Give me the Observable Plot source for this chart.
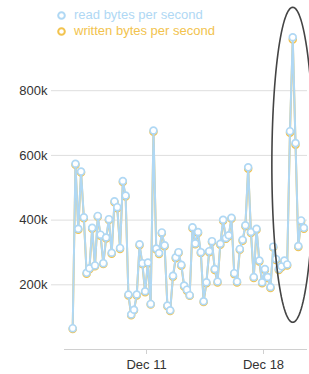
<!DOCTYPE html>
<html>
<head>
<meta charset="utf-8">
<script src="https://cdn.jsdelivr.net/npm/d3@7"></script>
<script src="https://cdn.jsdelivr.net/npm/@observablehq/plot@0.6"></script>
<style>
  html, body { margin: 0; padding: 0; background: #fff; }
  #wrap { position: relative; width: 309px; height: 374px; font-family: "Liberation Sans", Arial, sans-serif; }
  #legend { position: absolute; left: 56px; top: 7px; font-size: 13px; line-height: 16px; z-index: 2; }
  #legend div { display: flex; align-items: center; white-space: nowrap; }
  #legend svg { margin-right: 7px; }
</style>
</head>
<body>
<div id="wrap">
  <div id="legend"></div>
  <div id="chart"></div>
</div>
<script>
// Series (thousands of bytes per second), sampled every 4 hours
const seriesNames = ["read bytes per second", "written bytes per second"];
const seriesColors = ["#b0d8f4", "#f2c34e"];
const readValues = [66,574,373,550,409,237,251,376,260,413,355,267,346,403,299,458,440,314,521,476,170,108,123,170,325,267,180,269,141,677,312,298,362,322,136,121,228,285,301,262,198,185,168,378,328,363,301,149,208,304,335,249,210,327,401,345,353,407,236,210,311,339,384,563,363,224,373,275,208,249,224,193,318,280,249,257,275,263,675,965,638,320,399,376];
const writtenValues = [63,571,370,547,406,234,248,373,257,410,352,264,343,400,296,455,437,311,518,473,167,106,121,167,322,264,177,266,139,673,309,295,359,319,134,119,225,282,298,259,195,182,166,375,325,360,298,147,205,301,332,246,207,324,398,342,350,404,233,207,308,336,381,559,360,221,370,272,205,246,221,190,315,277,246,254,272,260,670,958,633,317,396,373];
const sampleStart = "2023-12-06T14:00Z";
const sampleEnd = "2023-12-20T14:00Z";
const sampleHours = 4;
const yTicks = [200, 400, 600, 800];
const xTickDates = ["2023-12-11", "2023-12-18"];
const xDomain = ["2023-12-06T02:14Z", "2023-12-20T15:11Z"];

const times = d3.utcHours(new Date(sampleStart), new Date(sampleEnd), sampleHours);
const readData = times.map((t, i) => ({t, v: readValues[i]}));
const writtenData = times.map((t, i) => ({t, v: writtenValues[i]}));

// annotation ellipse around the final spike (in data space)
const peakIdx = readValues.indexOf(d3.max(readValues));
const ellCenterT = +times[peakIdx];
const ellRxMs = 30 * 3600 * 1000;
const ellCy = 571, ellRy = 487;
const ellipse = d3.range(0, 121).map(k => {
  const a = (k / 120) * 2 * Math.PI;
  return {t: new Date(ellCenterT + ellRxMs * Math.cos(a)), v: ellCy + ellRy * Math.sin(a)};
});

const dom = xDomain.map(d => new Date(d));

const chart = Plot.plot({
  width: 309,
  height: 374,
  marginLeft: 51,
  marginRight: 2,
  marginTop: 25.5,
  marginBottom: 25,
  style: {fontFamily: "Liberation Sans, Arial, sans-serif", fontSize: "13px", color: "#333", background: "transparent", overflow: "visible"},
  x: {type: "utc", domain: dom, range: [64, 307]},
  y: {domain: [0, 1000]},
  marks: [
    Plot.ruleY(yTicks, {stroke: "#dedede", strokeWidth: 1}),
    Plot.ruleY([0], {x1: dom[0], x2: dom[1], stroke: "#d0d0d0", strokeWidth: 1}),
    Plot.axisY({ticks: yTicks, tickFormat: d => d + "k", tickSize: 0, tickPadding: 4, label: null, fill: "#333"}),
    Plot.axisX({ticks: xTickDates.map(d => new Date(d)), tickFormat: d3.utcFormat("%b %-d"), tickSize: 5, tickPadding: 5, stroke: "#d0d0d0", fill: "#333", label: null}),
    Plot.line(writtenData, {x: "t", y: "v", stroke: seriesColors[1], strokeWidth: 2}),
    Plot.dot(writtenData, {x: "t", y: "v", r: 3.4, fill: "white", stroke: seriesColors[1], strokeWidth: 1.7}),
    Plot.line(readData, {x: "t", y: "v", stroke: seriesColors[0], strokeWidth: 2}),
    Plot.dot(readData, {x: "t", y: "v", r: 3.4, fill: "white", stroke: seriesColors[0], strokeWidth: 1.7}),
    Plot.line(ellipse, {x: "t", y: "v", stroke: "#444", strokeWidth: 1.6})
  ]
});
document.getElementById("chart").appendChild(chart);

const legend = document.getElementById("legend");
seriesNames.forEach((name, i) => {
  const row = document.createElement("div");
  row.style.color = seriesColors[i];
  row.innerHTML = `<svg width="11" height="11"><circle cx="5.5" cy="5.5" r="3.3" fill="white" stroke="${seriesColors[i]}" stroke-width="2"></circle></svg><span>${name}</span>`;
  legend.appendChild(row);
});
</script>
</body>
</html>
